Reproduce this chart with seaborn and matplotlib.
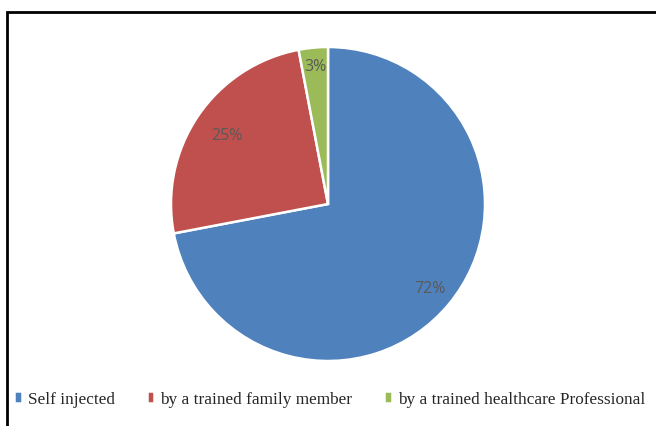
import numpy as np
import seaborn as sns
import matplotlib.pyplot as plt
from matplotlib.patches import Rectangle

# values
categories = ['Self injected', 'by a trained family member', 'by a trained healthcare Professional']
shares = [72, 25, 3]
colors = ['#4F81BD', '#C0504D', '#9BBB59']
label_dist = [0.84, 0.78, 0.88]

sns.set_style('white')
plt.rcParams['font.family'] = ['Liberation Serif', 'DejaVu Serif']

fig = plt.figure(figsize=(6.56, 4.27), dpi=100)
ax = fig.add_axes([(328 - 157) / 656, 1 - (205 + 157) / 427, 314 / 656, 314 / 427])

wedges, texts, autotexts = ax.pie(
    shares, colors=colors, startangle=90, counterclock=False,
    autopct='%d%%', pctdistance=0.83,
    wedgeprops=dict(edgecolor='white', linewidth=1.8),
    textprops=dict(color='#595959', fontsize=11.5, family=['Open Sans', 'DejaVu Sans']),
)
# move each percentage to where it sits in the original
for w, t, d in zip(wedges, autotexts, label_dist):
    ang = np.deg2rad((w.theta1 + w.theta2) / 2)
    t.set_position((d * np.cos(ang), d * np.sin(ang)))
ax.set_aspect('equal')
ax.set_xlim(-1, 1)
ax.set_ylim(-1, 1)
ax.axis('off')

# outer frame (right and bottom run off the image)
fig.patches.append(Rectangle((7 / 656, -0.05), 1.1, 1 - 13 / 427 + 0.05,
                             transform=fig.transFigure, fill=False,
                             edgecolor='black', linewidth=2))

leg = fig.legend(wedges, categories, loc='center left', bbox_to_anchor=(14 / 656, 1 - 400 / 427),
                 ncol=3, frameon=False, fontsize=12.4, handlelength=0.45, handleheight=0.7,
                 handletextpad=0.35, columnspacing=1.85, borderaxespad=0, borderpad=0)

fig.savefig('out.png', dpi=100)
